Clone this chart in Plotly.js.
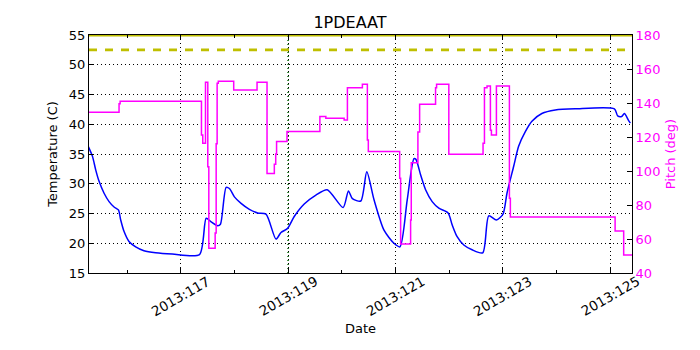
<!DOCTYPE html>
<html>
<head>
<meta charset="utf-8">
<script src="https://cdn.plot.ly/plotly-3.0.1.min.js"></script>
<style>
  html, body { margin: 0; padding: 0; background: #fff; }
  #chart { width: 700px; height: 350px; }
</style>
</head>
<body>
<div id="chart"></div>
<script>
// 1PDEAAT temperature vs pitch, days are day-of-year 2013

const tempDays = [115.28, 115.355, 115.416, 115.478, 115.571, 115.664, 115.757, 115.838, 115.881, 115.942,
    116.035, 116.16, 116.314, 116.532, 116.842, 117.349, 117.474, 117.567, 117.69, 117.74,
    117.846, 117.907, 118.0, 118.124, 118.279, 118.433, 118.589, 118.775, 118.868, 118.991,
    119.115, 119.301, 119.519, 119.729, 120.026, 120.125, 120.199, 120.355, 120.467, 120.602,
    120.788, 120.974, 121.085, 121.221, 121.346, 121.383, 121.47, 121.563, 121.686, 121.81,
    121.983, 122.058, 122.151, 122.275, 122.43, 122.628, 122.74, 122.883, 123.006, 123.08,
    123.204, 123.297, 123.422, 123.545, 123.73, 123.98, 124.351, 125.082, 125.143, 125.217,
    125.268, 125.342, 125.379];
const tempVals = [36.2, 34.6, 32.3, 30.4, 28.4, 27.0, 26.1, 25.6, 23.9, 22.0,
    20.3, 19.4, 18.75, 18.4, 18.2, 18.1, 24.2, 23.6, 22.95, 23.2,
    29.4, 29.2, 27.8, 26.7, 25.7, 25.1, 24.9, 20.7, 21.8, 22.5,
    24.5, 26.6, 28.1, 29.0, 26.0, 28.8, 27.5, 27.1, 32.0, 27.3,
    22.2, 20.0, 19.4, 27.3, 34.2, 34.1, 31.5, 29.0, 27.0, 25.9,
    25.1, 23.1, 21.1, 19.7, 18.9, 18.4, 24.6, 23.9, 24.9, 28.4,
    32.9, 36.3, 38.75, 40.5, 41.8, 42.4, 42.6, 42.6, 41.4, 41.3,
    41.8, 40.7, 40.2];

// pitch is a step series (value holds until next point)
const pitchDays = [115.29, 115.85, 115.87, 117.386, 117.41, 117.461, 117.504, 117.523, 117.641, 117.66,
    117.678, 117.70, 117.987, 118.422, 118.608, 118.744, 118.77, 118.786, 118.98, 119.593,
    119.704, 120.045, 120.106, 120.385, 120.478, 120.496, 121.08, 121.098, 121.284, 121.296,
    121.42, 121.452, 121.749, 121.768, 121.996, 122.634, 122.66, 122.708, 122.771, 122.79,
    122.883, 123.125, 123.143, 125.095, 125.255, 125.41];
const pitchVals = [134.5, 139.5, 141, 121.2, 116.3, 152.2, 102.5, 54.5, 63.5, 116,
    151.6, 152.8, 147.6, 152.2, 98.6, 104, 110, 117.3, 123.3, 132,
    131, 130, 149, 151, 118.2, 111.4, 95.7, 57, 71.2, 104.9,
    123, 139.2, 149, 151, 109.8, 116.3, 149, 150, 124, 121.2,
    150, 84, 73, 64.7, 50.6, 50.6];

const limitDays = [115.29, 125.41];
const planningLimit = [52.5, 52.5];
const cautionLimit = [55, 55];
const eventDays = [119.0, 119.0];
const eventTemps = [15, 55];

const tickDays = [117, 119, 121, 123, 125];
const tickLabels = ["2013:117", "2013:119", "2013:121", "2013:123", "2013:125"];

const FONT = "DejaVu Sans, sans-serif";
const MAG = "#ff00ff";
const YEL = "#bfbf00";

var traces = [
    {
        x: eventDays, y: eventTemps, mode: "lines",
        line: {color: "#006400", width: 1.5, dash: "1px,3px"}
    },
    {
        x: limitDays, y: cautionLimit, mode: "lines",
        line: {color: YEL, width: 3}
    },
    {
        x: limitDays, y: planningLimit, mode: "lines",
        line: {color: YEL, width: 2.7, dash: "8px,8px"}
    },
    {
        x: tempDays, y: tempVals, mode: "lines",
        line: {color: "#0000ff", width: 1.5, shape: "spline", smoothing: 0.7}
    },
    {
        x: pitchDays, y: pitchVals, mode: "lines", yaxis: "y2",
        line: {color: MAG, width: 1.5, shape: "hv"}
    }
];

// matplotlib-like rotated tick labels, centred on the tick
var tickNotes = tickDays.map((d, i) => ({
    x: d, xref: "x",
    y: -0.096, yref: "paper",
    text: tickLabels[i],
    textangle: -30,
    showarrow: false,
    xanchor: "center", yanchor: "middle",
    font: {family: FONT, size: 13.5, color: "#000"}
}));

var layout = {
    width: 700,
    height: 350,
    margin: {l: 89, r: 68, t: 35, b: 77},
    paper_bgcolor: "#fff",
    plot_bgcolor: "#fff",
    showlegend: false,
    font: {family: FONT, size: 13, color: "#000"},
    title: {text: "1PDEAAT", font: {size: 16}, x: 0.5, xanchor: "center", y: 0.937, yanchor: "middle"},
    annotations: tickNotes,
    xaxis: {
        range: [115.29, 125.41],
        tickvals: tickDays,
        ticktext: tickLabels,
        showticklabels: false,
        ticks: "inside",
        ticklen: 5,
        tickcolor: "#000",
        showline: true,
        linecolor: "#000",
        linewidth: 1,
        mirror: "ticks",
        showgrid: true,
        gridcolor: "#000",
        griddash: "1px,3px",
        gridwidth: 1,
        zeroline: false,
        minor: {dtick: 1, tick0: 0, ticks: "inside", ticklen: 3, tickcolor: "#000", showgrid: false},
        title: {text: "Date", font: {size: 13}, standoff: 50}
    },
    yaxis: {
        range: [15, 55],
        dtick: 5,
        ticks: "inside",
        ticklen: 5,
        tickcolor: "#000",
        showline: true,
        linecolor: "#000",
        linewidth: 1,
        showgrid: true,
        gridcolor: "#000",
        griddash: "1px,3px",
        gridwidth: 1,
        zeroline: false,
        title: {text: "Temperature (C)", font: {size: 13}, standoff: 8}
    },
    yaxis2: {
        overlaying: "y",
        side: "right",
        range: [40, 180],
        dtick: 20,
        ticks: "inside",
        ticklen: 5,
        tickcolor: "#000",
        tickfont: {color: MAG},
        showline: true,
        linecolor: "#000",
        linewidth: 1,
        showgrid: false,
        zeroline: false,
        title: {text: "Pitch (deg)", font: {size: 13, color: MAG}, standoff: 6}
    }
};

Plotly.newPlot("chart", traces, layout, {staticPlot: true});
</script>
</body>
</html>
